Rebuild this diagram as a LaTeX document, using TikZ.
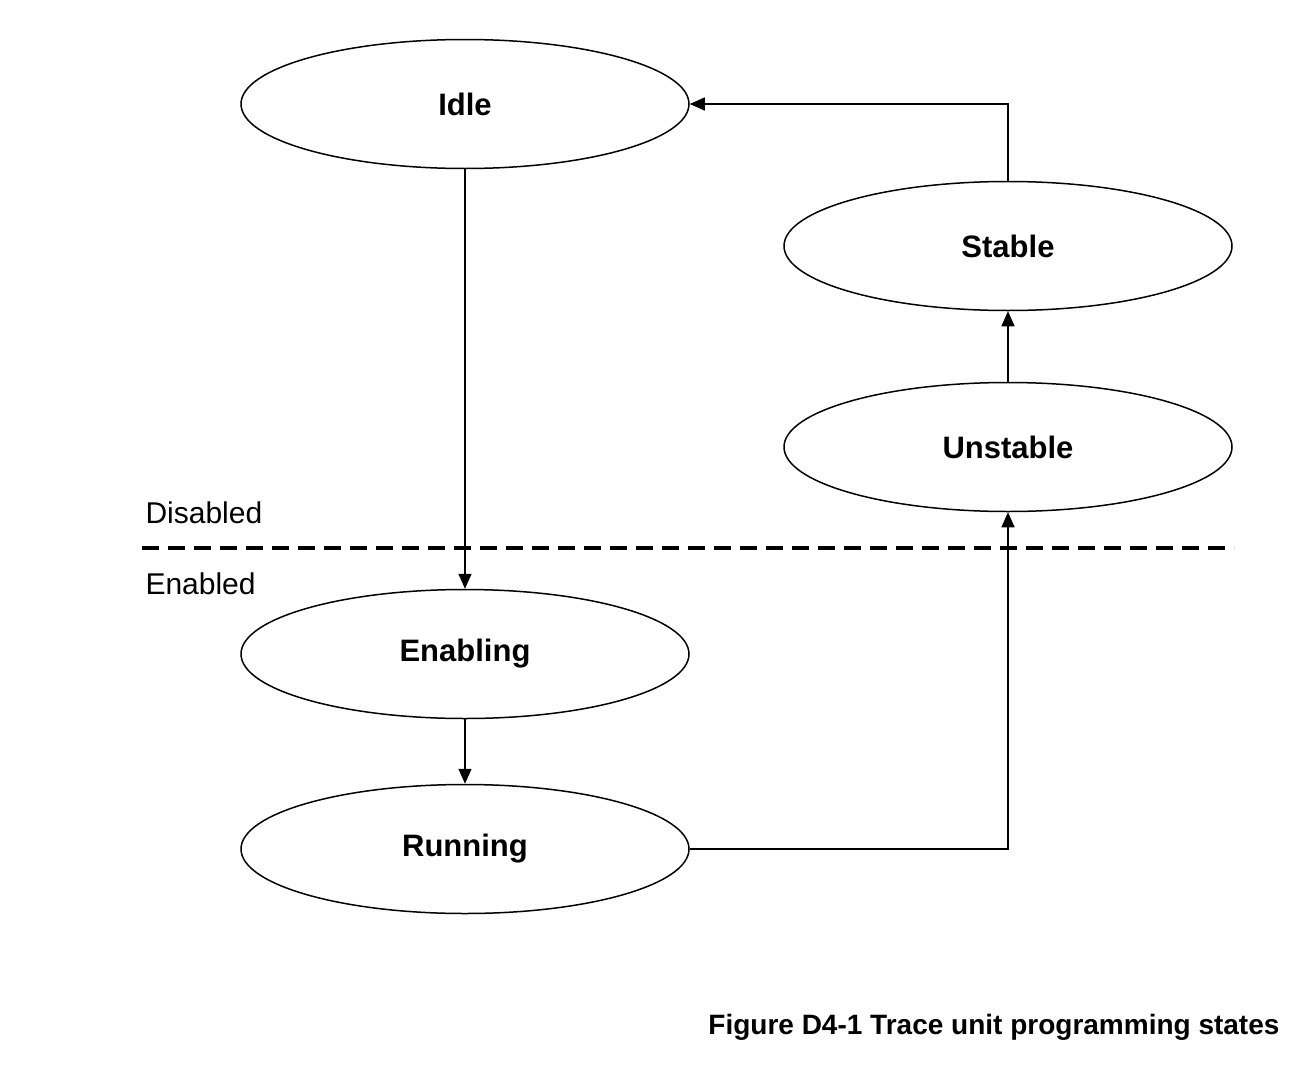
\documentclass[tikz,border=0pt]{standalone}
\usepackage{fontspec}
\setmainfont{Liberation Sans}
\usetikzlibrary{shapes.geometric,arrows.meta}
\begin{document}
\begin{tikzpicture}[x=1pt,y=-1pt,
  state/.style={ellipse,draw,line width=1.5pt,minimum width=448pt,minimum height=129pt,inner sep=0pt,font=\fontsize{31}{36}\selectfont\bfseries},
  conn/.style={line width=1.5pt,-{Triangle[length=15pt,width=13pt]}},
  lbl/.style={font=\fontsize{30}{36}\selectfont,anchor=west}]
\useasboundingbox (0,0) rectangle (1314,1084);
\node[state] (idle) at (465,104) {Idle};
\node[state] (stable) at (1008,246) {Stable};
\node[state] (unstable) at (1008,447) {Unstable};
\node[state] (enabling) at (465,654) {Enabling};
\node[state] (running) at (465,849) {Running};
\draw[conn] (idle.south) -- (enabling.north);
\draw[conn] (enabling.south) -- (running.north);
\draw[conn] (running.east) -| (unstable.south);
\draw[conn] (unstable.north) -- (stable.south);
\draw[conn] (stable.north) |- (idle.east);
\coordinate (dl) at (142,548);
\coordinate (dr) at (1234,548);
\draw[line width=3.5pt,dash pattern=on 17pt off 9pt] (dl) -- (dr);
\node[lbl] (dis) at (142,513) {Disabled};
\node[lbl] (en) at (142,584) {Enabled};
\node[anchor=east,font=\fontsize{28}{34}\selectfont\bfseries] (cap) at (1283,1027) {Figure D4-1 Trace unit programming states};
\end{tikzpicture}
\end{document}
